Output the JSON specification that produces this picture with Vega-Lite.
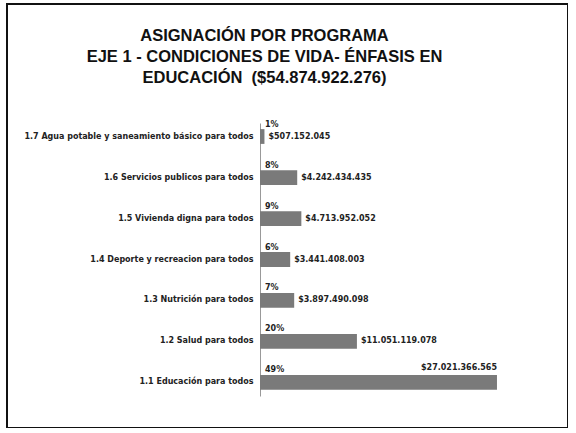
{
  "$schema": "https://vega.github.io/schema/vega-lite/v6.json",
  "width": 561,
  "height": 424,
  "autosize": {"type": "none"},
  "padding": {"left": 7, "top": 4, "right": 0, "bottom": 0},
  "background": "white",
  "config": {
    "view": {"stroke": "#111111", "strokeWidth": 2},
    "locale": {
      "number": {"decimal": ",", "thousands": ".", "grouping": [3], "currency": ["$", ""]}
    }
  },
  "title": {
    "text": ["ASIGNACIÓN POR PROGRAMA", "EJE 1 - CONDICIONES DE VIDA- ÉNFASIS EN", "EDUCACIÓN \u00a0($54.874.922.276)"],
    "font": "Liberation Sans",
    "fontSize": 16.5,
    "fontWeight": "bold",
    "color": "#111111",
    "anchor": "middle",
    "frame": "group",
    "baseline": "top",
    "offset": -82,
    "dx": -23,
    "lineHeight": 21
  },
  "data": {
    "values": [
      {"programa": "1.7 Agua potable y saneamiento básico para todos", "valor": 507152045, "pct": "1%"},
      {"programa": "1.6 Servicios publicos para todos", "valor": 4242434435, "pct": "8%"},
      {"programa": "1.5 Vivienda digna para todos", "valor": 4713952052, "pct": "9%"},
      {"programa": "1.4 Deporte y recreacion para todos", "valor": 3441408003, "pct": "6%"},
      {"programa": "1.3 Nutrición para todos", "valor": 3897490098, "pct": "7%"},
      {"programa": "1.2 Salud para todos", "valor": 11051119078, "pct": "20%"},
      {"programa": "1.1 Educación para todos", "valor": 27021366565, "pct": "49%"}
    ]
  },
  "encoding": {
    "y": {
      "field": "programa",
      "type": "nominal",
      "sort": null,
      "scale": {"range": [119, 392], "paddingInner": 0.64, "paddingOuter": 0.15},
      "axis": {
        "title": null,
        "offset": -253,
        "ticks": false,
        "labelPadding": 7,
        "labelFont": "DejaVu Sans",
        "labelFontSize": 8,
        "labelFontWeight": "bold",
        "labelColor": "#222222",
        "domainColor": "#999999",
        "labelLimit": 0
      }
    }
  },
  "layer": [
    {
      "mark": {"type": "bar", "color": "#7a7a7a"},
      "encoding": {
        "x": {
          "field": "valor",
          "type": "quantitative",
          "scale": {"domain": [-28850000000, 35120000000], "nice": false, "zero": false},
          "axis": null
        }
      }
    },
    {
      "transform": [{"filter": "datum.valor < 20000000000"}],
      "mark": {"type": "text", "align": "left", "baseline": "middle", "dx": 4, "font": "DejaVu Sans", "fontSize": 8, "fontWeight": "bold", "color": "#222222"},
      "encoding": {
        "x": {"field": "valor", "type": "quantitative"},
        "text": {"field": "valor", "type": "quantitative", "format": "$,.0f"}
      }
    },
    {
      "transform": [{"filter": "datum.valor >= 20000000000"}],
      "mark": {"type": "text", "align": "right", "baseline": "middle", "dy": -14, "font": "DejaVu Sans", "fontSize": 8, "fontWeight": "bold", "color": "#222222"},
      "encoding": {
        "x": {"field": "valor", "type": "quantitative"},
        "text": {"field": "valor", "type": "quantitative", "format": "$,.0f"}
      }
    },
    {
      "mark": {"type": "text", "align": "left", "baseline": "middle", "dx": 5, "dy": -12, "font": "DejaVu Sans", "fontSize": 8, "fontWeight": "bold", "color": "#222222"},
      "encoding": {
        "x": {"datum": 0},
        "text": {"field": "pct"}
      }
    }
  ]
}
